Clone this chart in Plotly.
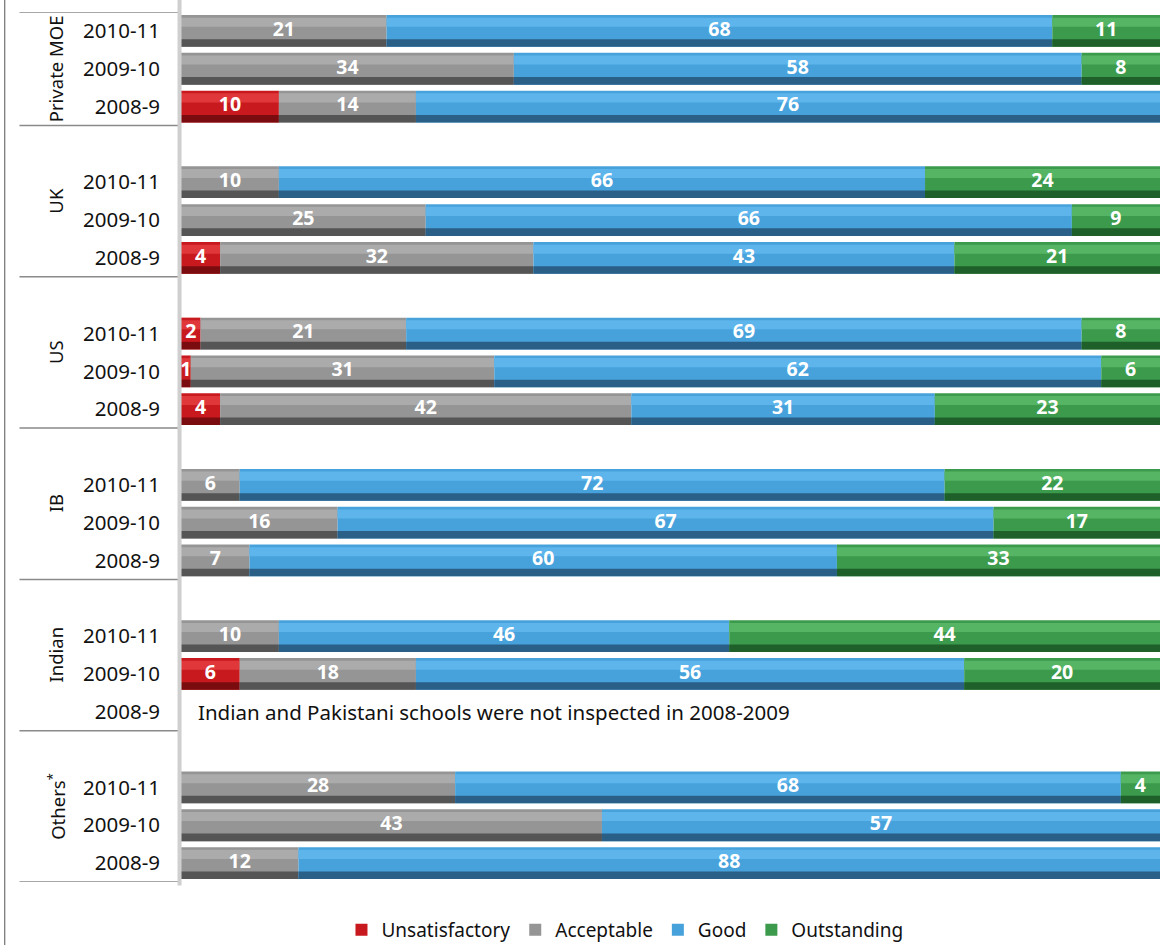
import plotly.graph_objects as go

# Inspection ratings (%) by curriculum and year
groups = ['Private MOE', 'UK', 'US', 'IB', 'Indian', 'Others<sup>*</sup>']
years = ['2010-11', '2009-10', '2008-9']
ratings = ['Unsatisfactory', 'Acceptable', 'Good', 'Outstanding']

unsatisfactory = [0, 0, 10,  0, 0, 4,  2, 1, 4,  0, 0, 0,  0, 6, 0,  0, 0, 0]
acceptable = [21, 34, 14,  10, 25, 32,  21, 31, 42,  6, 16, 7,  10, 18, 0,  28, 43, 12]
good = [68, 58, 76,  66, 66, 43,  69, 62, 31,  72, 67, 60,  46, 56, 0,  68, 57, 88]
outstanding = [11, 8, 0,  24, 9, 21,  8, 6, 23,  22, 17, 33,  44, 20, 0,  4, 0, 0]

note = 'Indian and Pakistani schools were not inspected in 2008-2009'

# colours: (mid, light, dark)
colours = {
    'Unsatisfactory': ('#c8191e', '#e0383a', '#7a0c10'),
    'Acceptable': ('#959595', '#ababab', '#555555'),
    'Good': ('#47a2dc', '#5db5ec', '#2a5f88'),
    'Outstanding': ('#3b9a4c', '#56b565', '#1e5f2a'),
}
series = dict(zip(ratings, [unsatisfactory, acceptable, good, outstanding]))

# vertical slot for every row: first group has no spacer row
pos = []
for gi in range(len(groups)):
    start = 0 if gi == 0 else 4 * gi
    for yi in range(len(years)):
        pos.append(start + yi)
group_centre = [1, 4.5, 8.5, 12.5, 16.5, 20.5]

font = 'Noto Sans, Open Sans, sans-serif'

fig = go.Figure()
base = [0] * len(pos)
lab_x, lab_y, lab_t = [], [], []
for r in ratings:
    vals = series[r]
    mid, light, dark = colours[r]
    fig.add_trace(go.Bar(x=vals, y=pos, base=base, orientation='h', width=0.84,
                         marker=dict(color=mid, line_width=0), name=r,
                         hoverinfo='skip'))
    fig.add_trace(go.Bar(x=vals, y=pos, base=base, orientation='h', width=0.24,
                         offset=-0.35, marker=dict(color=light, line_width=0),
                         showlegend=False, hoverinfo='skip'))
    fig.add_trace(go.Bar(x=vals, y=pos, base=base, orientation='h', width=0.2,
                         offset=0.22, marker=dict(color=dark, line_width=0),
                         showlegend=False, hoverinfo='skip'))
    for i, v in enumerate(vals):
        if v > 0:
            lab_x.append(base[i] + v / 2)
            lab_y.append(pos[i])
            lab_t.append(str(v))
    base = [b + v for b, v in zip(base, vals)]

fig.add_trace(go.Scatter(x=lab_x, y=lab_y, text=lab_t, mode='text',
                         textfont=dict(color='white', size=19.5, family=font, weight='bold'),
                         showlegend=False, hoverinfo='skip'))

# group labels and separators
for g, c in zip(groups, group_centre):
    fig.add_annotation(x=-0.143, xref='paper', y=c, yref='y', text=g, textangle=-90,
                       showarrow=False, font=dict(size=18.5, color='#111', family=font))
for b in [-0.5, 2.5, 6.5, 10.5, 14.5, 18.5, 22.5]:
    fig.add_shape(type='line', xref='paper', yref='y', x0=-0.165, x1=0, y0=b, y1=b,
                  line=dict(color='#8a8a8a', width=1.5))
fig.add_shape(type='line', xref='paper', yref='paper', x0=-0.0015, x1=-0.0015, y0=-0.004, y1=1.014,
              line=dict(color='#cfcfcf', width=4))
fig.add_shape(type='line', xref='paper', yref='paper', x0=-0.18, x1=-0.18, y0=-0.08, y1=1.02,
              line=dict(color='#555555', width=1))

fig.add_annotation(x=1.5, y=18, xref='x', yref='y', text=note, showarrow=False,
                   xanchor='left', font=dict(size=20.5, color='#111', family=font))

fig.update_layout(
    barmode='overlay',
    width=1166, height=945,
    margin=dict(l=181, r=6, t=12, b=63, autoexpand=False),
    plot_bgcolor='white', paper_bgcolor='white',
    xaxis=dict(range=[0, 100], visible=False, fixedrange=True, automargin=False),
    yaxis=dict(range=[22.5, -0.5], tickvals=pos, ticktext=years * len(groups),
               showgrid=False, zeroline=False, ticks='', ticklabelstandoff=20,
               automargin=False,
               tickfont=dict(size=20.5, color='#111', family=font)),
    legend=dict(orientation='h', x=0.4535, xanchor='center', y=-0.055, yanchor='middle',
                font=dict(size=19, color='#111', family=font), traceorder='normal',
                itemwidth=30),
    showlegend=True,
)

fig.write_html('out.html', config={'displayModeBar': False},
               post_script="document.body.style.margin='0';")
